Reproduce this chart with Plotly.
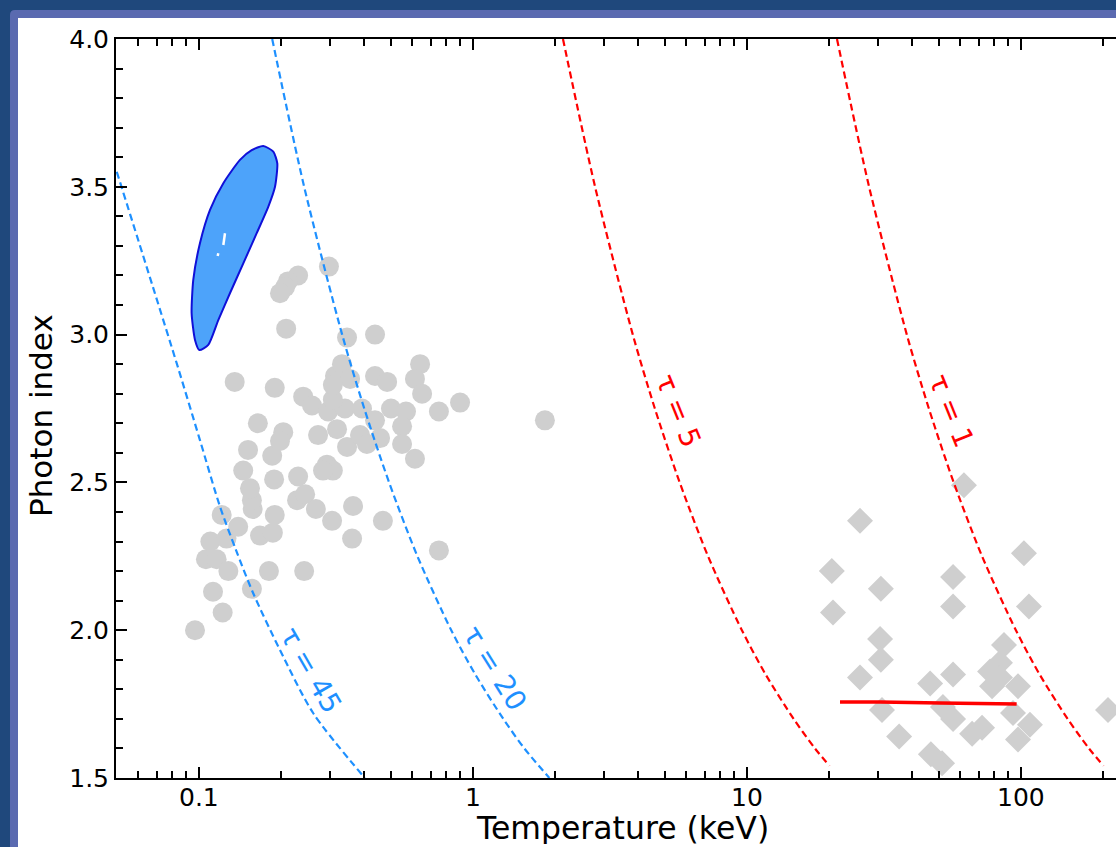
import numpy as np
import plotly.graph_objects as go

# Soft-state sources: electron temperature (keV) and photon index
soft_T = [0.0967, 0.122, 0.1125, 0.156, 0.180, 0.242, 0.106, 0.116, 0.128, 0.110,
          0.126, 0.139, 0.121, 0.167, 0.186, 0.189, 0.157, 0.156, 0.1535, 0.145,
          0.151, 0.185, 0.188, 0.230, 0.228, 0.244, 0.267, 0.306, 0.362, 0.365,
          0.293, 0.308, 0.2835, 0.272, 0.347, 0.387, 0.319, 0.164, 0.203, 0.1975,
          0.230, 0.211, 0.206, 0.1975, 0.298, 0.208, 0.347, 0.439, 0.135, 0.189,
          0.240, 0.2585, 0.3135, 0.3325, 0.356, 0.296, 0.341, 0.3935, 0.308, 0.308,
          0.641, 0.614, 0.439, 0.486, 0.652, 0.897, 0.751, 0.502, 0.5695, 0.439,
          0.551, 0.458, 0.410, 0.551, 0.614, 0.469, 1.83, 0.751]
soft_gamma = [2.00, 2.06, 2.13, 2.14, 2.20, 2.20, 2.24, 2.24, 2.20, 2.30,
              2.31, 2.35, 2.39, 2.32, 2.33, 2.39, 2.41, 2.44, 2.48, 2.54,
              2.61, 2.59, 2.51, 2.52, 2.44, 2.46, 2.41, 2.37, 2.31, 2.42,
              2.56, 2.54, 2.54, 2.66, 2.62, 2.66, 2.68, 2.70, 2.67, 2.64,
              3.20, 3.18, 3.16, 3.14, 3.23, 3.02, 2.99, 3.00, 2.84, 2.82,
              2.79, 2.76, 2.86, 2.90, 2.85, 2.74, 2.75, 2.75, 2.78, 2.83,
              2.90, 2.85, 2.86, 2.84, 2.80, 2.77, 2.74, 2.75, 2.74, 2.71,
              2.69, 2.65, 2.63, 2.63, 2.58, 2.37, 2.71, 2.27]

# Hard-state sources
hard_T = [61.9, 25.85, 20.4, 30.8, 56.5, 102.5, 20.6, 56.5, 106.9, 30.6,
          30.8, 86.7, 83.8, 25.85, 46.6, 56.5, 78.4, 97.5, 83.8, 77.1,
          31.1, 51.9, 56.5, 93.5, 107.8, 72.1, 66.3, 35.9, 46.9, 51.5,
          97.5, 207.7]
hard_gamma = [2.49, 2.37, 2.20, 2.14, 2.18, 2.26, 2.06, 2.08, 2.08, 1.97,
              1.90, 1.95, 1.89, 1.84, 1.82, 1.85, 1.81, 1.81, 1.84, 1.86,
              1.73, 1.74, 1.70, 1.72, 1.68, 1.67, 1.65, 1.64, 1.58, 1.55,
              1.63, 1.73]

# Constant optical-depth tracks
tau45_T = [0.0501, 0.0679, 0.0840, 0.1008, 0.1193, 0.1365, 0.1577, 0.1975, 0.2613, 0.403]
tau45_gamma = [3.551, 3.161, 2.886, 2.643, 2.418, 2.271, 2.125, 1.933, 1.719, 1.50]
tau20_T = [0.185, 0.242, 0.333, 0.401, 0.494, 0.627, 0.833, 1.02, 1.29, 1.54, 1.90]
tau20_gamma = [4.0, 3.5, 3.0, 2.75, 2.5, 2.25, 2.0, 1.85, 1.7, 1.6, 1.5]
tau5_T = [2.13, 2.79, 3.83, 4.61, 5.68, 7.21, 9.58, 11.7, 14.8, 17.7, 20.0]
tau5_gamma = [4.0, 3.5, 3.0, 2.75, 2.5, 2.25, 2.0, 1.85, 1.7, 1.6, 1.541]
tau1_T = [21.3, 27.9, 38.3, 46.1, 56.8, 72.1, 95.8, 117.0, 148.0, 177.0, 200.0]
tau1_gamma = [4.0, 3.5, 3.0, 2.75, 2.5, 2.25, 2.0, 1.85, 1.7, 1.6, 1.541]

# Confidence contours
soft_contour_T = [0.1716, 0.1867, 0.1931, 0.1894, 0.1791, 0.1624, 0.1451, 0.1297, 0.1176, 0.1081,
                  0.1003, 0.0967, 0.0940, 0.0953, 0.1008, 0.1097, 0.1227, 0.1411, 0.1557, 0.1716]
soft_contour_gamma = [3.638, 3.619, 3.579, 3.500, 3.433, 3.343, 3.241, 3.140, 3.049, 2.965,
                      2.948, 2.982, 3.072, 3.185, 3.309, 3.422, 3.512, 3.591, 3.624, 3.638]
soft_inner_T = [0.1244, 0.1227, None, 0.1176, 0.1170]
soft_inner_gamma = [3.343, 3.303, None, 3.275, 3.266]
hard_contour_T = [21.85, 30.6, 50.6, 83.8, 96.4]
hard_contour_gamma = [1.757, 1.757, 1.754, 1.751, 1.750]

tau_labels = ["τ = 45", "τ = 20", "τ = 5", "τ = 1"]
label_T = [0.2564, 1.203, 5.601, 55.53]
label_gamma = [1.865, 1.872, 2.742, 2.742]
label_angle = [60, 58, 68, 68]

x_tick_vals = [0.1, 1, 10, 100]
x_tick_text = ["0.1", "1", "10", "100"]
y_tick_vals = [1.5, 2.0, 2.5, 3.0, 3.5, 4.0]
y_tick_text = ["1.5", "2.0", "2.5", "3.0", "3.5", "4.0"]

BLUE = "#1E90FF"
RED = "#FF0000"
GREY = "#CFCFCF"
FONT = "DejaVu Sans"

x_minor = [m * 10.0 ** e for e in range(-2, 3) for m in range(2, 10)]
x_minor = [v for v in x_minor if 0.055 < v < 230]

fig = go.Figure()

fig.add_trace(go.Scatter(x=soft_T, y=soft_gamma, mode="markers",
                         marker=dict(symbol="circle", size=20, color=GREY, line=dict(width=0))))
fig.add_trace(go.Scatter(x=hard_T, y=hard_gamma, mode="markers",
                         marker=dict(symbol="diamond", size=20, color=GREY, line=dict(width=0))))

for tx, ty, col in [(tau45_T, tau45_gamma, BLUE), (tau20_T, tau20_gamma, BLUE),
                    (tau5_T, tau5_gamma, RED), (tau1_T, tau1_gamma, RED)]:
    fig.add_trace(go.Scatter(x=tx, y=ty, mode="lines",
                             line=dict(color=col, width=2.2, dash="7px,4px", shape="spline", smoothing=0.8)))

fig.add_trace(go.Scatter(x=hard_contour_T, y=hard_contour_gamma, mode="lines",
                         line=dict(color=RED, width=3.5)))
fig.add_trace(go.Scatter(x=soft_contour_T, y=soft_contour_gamma, mode="lines", fill="toself",
                         fillcolor="#4DA3FA",
                         line=dict(color="#1010D8", width=2, shape="spline", smoothing=0.6)))
fig.add_trace(go.Scatter(x=soft_inner_T, y=soft_inner_gamma, mode="lines",
                         line=dict(color="white", width=2.5)))

for txt, lx, ly, ang, col in zip(tau_labels, label_T, label_gamma, label_angle,
                                 [BLUE, BLUE, RED, RED]):
    fig.add_annotation(x=np.log10(lx), y=ly, text=txt, textangle=ang, showarrow=False,
                       xanchor="center", yanchor="middle",
                       font=dict(family=FONT, size=28, color=col))

# plot-area geometry in page pixels
L, T, W, H = 116, 39, 1000, 739


def px(x):
    return (x - L) / W


def py(y):
    return (T + H - y) / H


# x tick labels and axis titles
for v, s in zip(x_tick_vals, x_tick_text):
    fig.add_annotation(x=np.log10(v), xref="x", y=py(797), yref="paper", text=s,
                       showarrow=False, xanchor="center", yanchor="middle",
                       height=26, borderpad=0,
                       font=dict(family=FONT, size=25, color="black"))
fig.add_annotation(x=px(622), xref="paper", y=py(828), yref="paper",
                   text="Temperature (keV)", showarrow=False,
                   xanchor="center", yanchor="middle", height=32, borderpad=0,
                   font=dict(family=FONT, size=31.5, color="black"))
fig.add_annotation(x=px(41), xref="paper", y=py(416), yref="paper",
                   text="Photon index", textangle=-90, showarrow=False,
                   xanchor="center", yanchor="middle",
                   font=dict(family=FONT, size=31, color="black"))

# page frame
fig.add_shape(type="path", xref="paper", yref="paper", layer="below",
              path=f"M {px(10)},{py(900)} L {px(10)},{py(15)} Q {px(10)},{py(10)} {px(15)},{py(10)} "
                   f"L {px(1300)},{py(10)} L {px(1300)},{py(900)} Z",
              fillcolor="#5A6AB0", line=dict(width=0))
fig.add_shape(type="rect", xref="paper", yref="paper", layer="below",
              x0=px(18), y0=py(900), x1=px(1300), y1=py(18),
              fillcolor="white", line=dict(width=0))

fig.update_layout(
    width=1116, height=847,
    margin=dict(l=L, r=0, t=T, b=847 - T - H),
    paper_bgcolor="#1F487C", plot_bgcolor="white",
    showlegend=False,
    font=dict(family=FONT, color="black"),
)
fig.update_xaxes(
    type="log", range=[-1.3029, 2.3467],
    tickmode="array", tickvals=x_tick_vals, showticklabels=False,
    ticks="inside", ticklen=11, tickwidth=2, tickcolor="black",
    showline=True, linecolor="black", linewidth=2, mirror="ticks",
    showgrid=False, zeroline=False,
    minor=dict(tickmode="array", tickvals=x_minor, ticks="inside", ticklen=7,
               tickwidth=1.5, tickcolor="black", showgrid=False),
)
fig.update_yaxes(
    range=[1.5, 4.0],
    tickmode="array", tickvals=y_tick_vals, ticktext=y_tick_text,
    ticks="inside", ticklen=11, tickwidth=2, tickcolor="black",
    showline=True, linecolor="black", linewidth=2, mirror=False,
    showgrid=False, zeroline=False,
    tickfont=dict(size=25, family=FONT),
    minor=dict(dtick=0.1, ticks="inside", ticklen=7, tickwidth=1.5,
               tickcolor="black", showgrid=False),
)

fig.write_html("out.html")
